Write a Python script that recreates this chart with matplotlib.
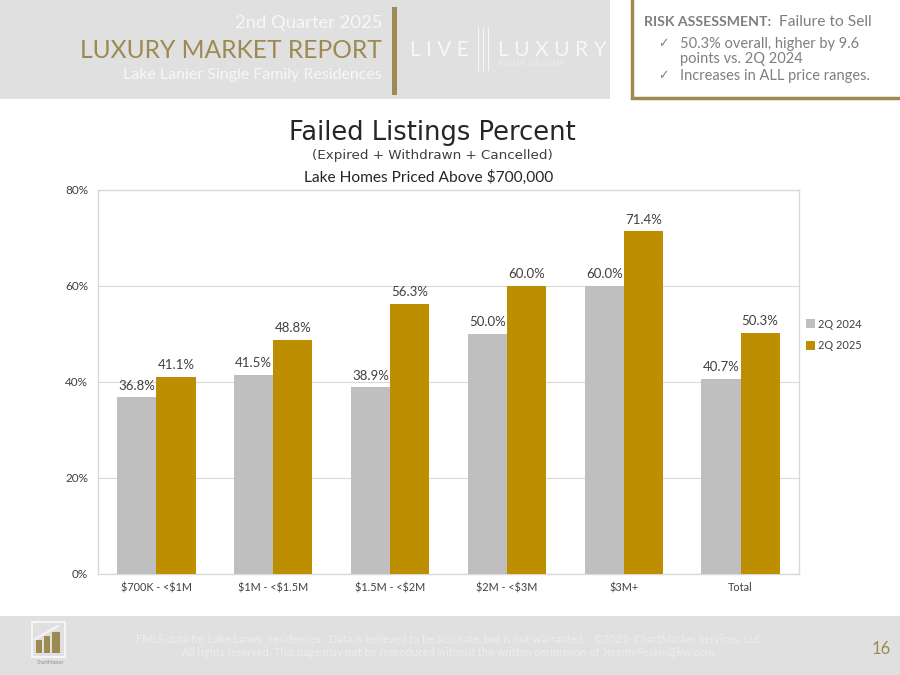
import matplotlib
matplotlib.use("Agg")
import matplotlib.pyplot as plt
from matplotlib.patches import Rectangle
from matplotlib.lines import Line2D
import numpy as np

categories = [r"\$700K - <\$1M", r"\$1M - <\$1.5M", r"\$1.5M - <\$2M", r"\$2M - <\$3M", r"\$3M+", "Total"]
values_2024 = [36.8, 41.5, 38.9, 50.0, 60.0, 40.7]
values_2025 = [41.1, 48.8, 56.3, 60.0, 71.4, 50.3]
y_ticks = [0, 20, 40, 60, 80]

GOLD = "#BD8F00"
GREY = "#BFBFBF"
BRONZE = "#9C8A52"
TEXT = "#404040"
W, H = 900, 675

plt.rcParams["font.family"] = ["Lato", "DejaVu Sans"]

fig = plt.figure(figsize=(9, 6.75), dpi=100, facecolor="white")


# everything outside the chart is placed in pixels from the top left
def px_text(x, y, s, **kw):
    kw.setdefault("va", "center")
    return fig.text(x / W, 1 - y / H, s, **kw)


def px_rect(x0, y0, x1, y1, **kw):
    fig.add_artist(Rectangle((x0 / W, 1 - y1 / H), (x1 - x0) / W, (y1 - y0) / H,
                             transform=fig.transFigure, **kw))


# header band
px_rect(0, 0, 610, 99, facecolor="#E0E0E0", edgecolor="none")
px_rect(392, 7, 397, 95, facecolor=BRONZE, edgecolor="none")
px_text(382, 23, "2nd Quarter 2025", ha="right", fontsize=13.2, color="#F7F7F7")
px_text(382, 50, "LUXURY MARKET REPORT", ha="right", fontsize=17.7, color=BRONZE)
px_text(382, 75, "Lake Lanier Single Family Residences", ha="right", fontsize=11.5, color="#F7F7F7")

# logo text
px_text(410, 50, "L I V E", ha="left", fontsize=15, color="#F7F7F7")
for lx in [479, 484, 489]:
    px_rect(lx - 1, 28, lx, 71, facecolor="#F7F7F7", edgecolor="none")
px_text(498, 50, "L U X U R Y", ha="left", fontsize=15.2, color="#F7F7F7")
px_text(499, 64, "KELLER WILLIAMS", ha="left", fontsize=5.5, color="#EDEDED")

# risk box
px_rect(632, -5, 910, 98, facecolor="white", edgecolor=BRONZE, linewidth=2.5)
px_text(644, 22, "RISK ASSESSMENT:", fontsize=10.2, fontweight="bold", color="#7F7F7F")
px_text(779, 22, "Failure to Sell", fontsize=11.2, color="#7F7F7F")
px_text(658, 44, "\u2713", fontsize=9, color="#7F7F7F", family="DejaVu Sans")
px_text(680, 44, "50.3% overall, higher by 9.6", fontsize=10.5, color="#7F7F7F")
px_text(680, 59, "points vs. 2Q 2024", fontsize=10.5, color="#7F7F7F")
px_text(658, 76, "\u2713", fontsize=9, color="#7F7F7F", family="DejaVu Sans")
px_text(680, 76, "Increases in ALL price ranges.", fontsize=10.5, color="#7F7F7F")

# titles
px_text(432, 133, "Failed Listings Percent", ha="center", fontsize=18.5,
        color="#262626", family="DejaVu Sans")
px_text(432, 156, "(Expired + Withdrawn + Cancelled)", ha="center", fontsize=9.7,
        color=TEXT, family="DejaVu Sans")
px_text(429, 177, "Lake Homes Priced Above $700,000".replace("$", r"\$"), ha="center",
        fontsize=11.2, color="#262626")

# chart
ax = fig.add_axes([98 / W, 1 - 574 / H, (799 - 98) / W, (574 - 190) / H])
x = np.arange(len(categories))
bw = 0.335
bars_24 = ax.bar(x - bw / 2, values_2024, bw, color=GREY, label="2Q 2024", zorder=3)
bars_25 = ax.bar(x + bw / 2, values_2025, bw, color=GOLD, label="2Q 2025", zorder=3)
for bars in (bars_24, bars_25):
    ax.bar_label(bars, fmt="%.1f%%", padding=4, fontsize=9.5, color=TEXT)

ax.set_xlim(-0.5, len(categories) - 0.5)
ax.set_ylim(0, 80)
ax.set_xticks(x)
ax.set_xticklabels(categories, fontsize=7.8, color=TEXT)
ax.set_yticks(y_ticks)
ax.set_yticklabels([f"{t}%" for t in y_ticks], fontsize=8.5, color=TEXT)
ax.tick_params(axis="x", length=0, pad=6)
ax.tick_params(axis="y", length=0, pad=7)
ax.grid(axis="y", color="#D9D9D9", linewidth=0.8, zorder=0)
for side in ax.spines.values():
    side.set_color("#D9D9D9")
    side.set_linewidth(1)

fig.legend(loc="center left", bbox_to_anchor=(796 / W, 1 - 335 / H), frameon=False,
           fontsize=7.9, labelcolor=TEXT, handlelength=0.8, handleheight=0.9,
           handletextpad=0.3, labelspacing=1.0)

# footer
px_rect(0, 616, 900, 675, facecolor="#E0E0E0", edgecolor="none")
px_text(449, 639, "FMLS data for Lake Lanier  residences.  Data is believed to be accurate, but is not warranted.   "
        "\u00a92025  ChartMaster Services, LLC", ha="center", fontsize=7.9, color="#EDEDED")
px_text(449, 652, "All rights reserved. This page may not be reproduced without the written permission of JeremyPeskin@kw.com.",
        ha="center", fontsize=7.8, color="#EDEDED")
px_text(881, 649, "16", ha="center", fontsize=12, color=BRONZE)

# chartmaster icon
px_rect(32, 622, 65, 657, facecolor="none", edgecolor="#F5F5F5", linewidth=1.5)
px_rect(36, 640, 42, 653, facecolor=BRONZE, edgecolor="none")
px_rect(44, 636, 50, 653, facecolor=BRONZE, edgecolor="none")
px_rect(52, 632, 60, 653, facecolor=BRONZE, edgecolor="none")
fig.add_artist(Line2D([35 / W, 58 / W], [1 - 639 / H, 1 - 626 / H], color="#F5F5F5", linewidth=1.5))
px_text(50, 663, "ChartMaster", ha="center", fontsize=3.5, color="#8C8C8C")

fig.savefig("out.png", dpi=100)
